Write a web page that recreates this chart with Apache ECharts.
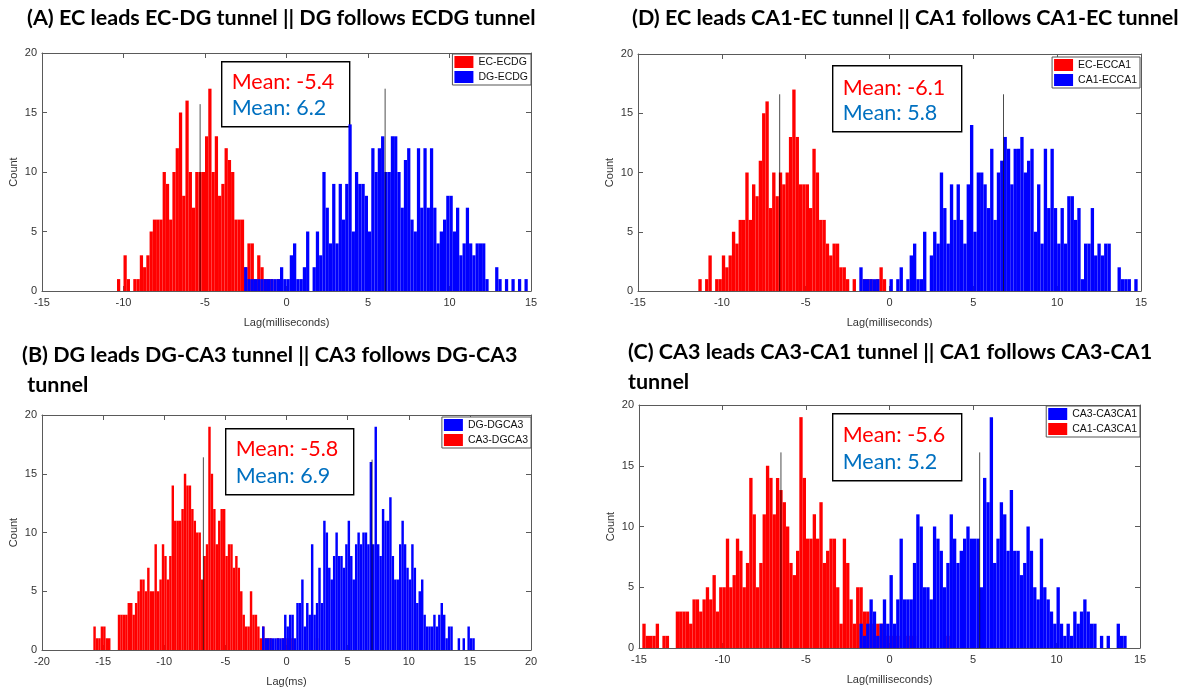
<!DOCTYPE html>
<html>
<head>
<meta charset="utf-8">
<title>Lag histograms</title>
<script src="https://cdn.jsdelivr.net/npm/echarts/dist/echarts.min.js"></script>
<style>
  html, body { margin: 0; padding: 0; background: #ffffff; }
  #chart { width: 1184px; height: 694px; }
</style>
</head>
<body>
<div id="chart"></div>
<script>
// Histogram bin width (ms); each counts array starts at the given left bin edge.
const BIN = 0.2;

// (A) EC-DG tunnel
const ecEcdgStart = -10.4;
const ecEcdgCounts = [1,0,3,1,0,1,1,3,2,3,5,6,6,6,10,9,6,10,12,15,8,16,10,7,10,10,10,13,17,10,13,8,9,12,11,10,6,6,6,2,4,4,1,3,2,1,1,1,0,1];
const dgEcdgStart = -2.8;
const dgEcdgCounts = [0,2,1,1,1,1,1,1,1,1,1,1,2,1,1,3,4,1,1,2,5,0,2,5,3,10,7,4,9,4,9,6,9,14,5,10,9,9,8,5,12,10,12,13,10,10,13,13,10,7,11,12,6,5,12,7,12,7,12,7,4,5,6,8,8,5,7,3,4,7,4,3,4,4,4,1,0,0,2,1,0,1,0,1,0,1,0,1];

// (D) CA1-EC tunnel
const ecEcca1Start = -11.4;
const ecEcca1Counts = [1,0,1,3,0,1,1,3,2,3,5,4,6,6,10,6,9,8,11,15,16,7,10,8,10,9,10,13,17,13,9,9,9,7,12,10,6,6,4,3,4,4,2,2,1,0,1,0,0,1,1,1,0,1,2,1];
const ca1Ecca1Start = -1.8;
const ca1Ecca1Counts = [2,1,1,1,1,1,0,0,0,1,0,1,2,0,1,3,4,1,1,5,0,3,5,4,10,7,4,9,6,9,6,4,9,14,5,10,10,9,7,12,6,10,11,13,12,9,12,12,13,10,11,12,5,9,4,12,7,12,7,4,7,4,8,8,6,7,1,4,4,7,3,4,3,4,4,0,0,2,1,1,1,0,1];

// (B) DG-CA3 tunnel
const dgDgca3Start = -2.0;
const dgDgca3Counts = [2,1,1,1,1,1,1,1,1,3,2,3,3,1,4,4,6,2,4,3,9,3,4,7,4,11,10,7,6,8,10,8,8,7,9,11,8,6,9,10,9,10,10,9,16,9,19,9,8,12,11,11,13,8,6,6,9,11,9,7,6,9,7,4,5,6,3,2,2,2,3,2,3,4,3,1,2,2,0,0,1,0,1,0,2,1,1];
const ca3Dgca3Start = -15.8;
const ca3Dgca3Counts = [2,1,1,2,2,1,1,0,0,0,3,3,3,3,4,4,3,4,5,6,6,5,7,5,5,9,5,6,9,8,6,8,14,11,11,11,12,15,14,14,12,11,10,10,6,8,9,19,15,12,9,11,12,12,8,9,9,7,8,7,5,3,2,2,5,3,3,2,1,2,1,1,1,0,0,1,0,1,1,1,1,1,0,0,0,0,0,0,0,0,0,1];

// (C) CA3-CA1 tunnel
const ca3Ca3ca1Start = -1.8;
const ca3Ca3ca1Counts = [2,1,2,4,3,1,2,4,2,6,2,4,9,4,4,4,7,11,10,5,5,4,10,9,8,5,7,11,9,7,8,9,10,9,9,9,5,14,12,19,7,9,12,11,8,13,8,8,6,7,10,8,5,4,9,5,4,3,2,5,2,1,2,1,3,2,3,4,3,2,2,0,1,0,1,0,0,2,1,1];
const ca1Ca3ca1Start = -14.8;
const ca1Ca3ca1Counts = [2,1,1,1,2,0,1,1,0,0,3,3,3,3,2,4,4,3,4,5,4,6,3,5,5,9,5,6,9,8,5,7,14,11,5,7,11,15,14,11,14,13,12,10,7,6,8,19,14,9,9,11,9,12,7,8,9,9,5,2,9,7,4,2,5,5,3,3,2,1,2,2,2,1,1,1,1,0,0,1,1,1,0,0,0,0,0,0,0,0,0,1];

// Vertical reference lines per panel: [lag, height]
const refLinesA = [[-5.3, 15.7], [6.05, 17.0]];
const refLinesD = [[-6.55, 16.6], [6.8, 16.6]];
const refLinesB = [[-6.8, 16.4], [7.0, 16.2]];
const refLinesC = [[-6.5, 16.1], [5.4, 16.1]];

// Mean annotations
const meansA = ['Mean: -5.4', 'Mean: 6.2'];
const meansD = ['Mean: -6.1', 'Mean: 5.8'];
const meansB = ['Mean: -5.8', 'Mean: 6.9'];
const meansC = ['Mean: -5.6', 'Mean: 5.2'];

// Axis ticks
const ticks15 = [-15, -10, -5, 0, 5, 10, 15];
const ticks20 = [-20, -15, -10, -5, 0, 5, 10, 15, 20];
const countTicks = [0, 5, 10, 15, 20];

const titles = [
  '(A) EC leads EC-DG tunnel || DG follows ECDG tunnel',
  '(D) EC leads CA1-EC tunnel || CA1 follows CA1-EC tunnel',
  '(B) DG leads DG-CA3 tunnel || CA3 follows DG-CA3\n tunnel',
  '(C) CA3 leads CA3-CA1 tunnel || CA1 follows CA3-CA1\ntunnel'
];

const RED = '#ff0000';
const BLUE = '#0000ff';
const MEAN_RED = '#ff0000';
const MEAN_BLUE = '#0070c0';
const AXIS = '#5a5a5a';
const TICK_TEXT = '#333333';
const TICK_FONT = '"Liberation Sans", Arial, sans-serif';
const TITLE_FONT = 'Lato, "Open Sans", sans-serif';

function binned(start, counts) {
  return counts.map((c, i) => [Math.round((start + i * BIN) * 100) / 100, c]);
}

function histRenderer(params, api) {
  const left = api.value(0);
  const count = api.value(1);
  if (!(count > 0)) return null;
  const base = api.coord([left, 0]);
  const top = api.coord([left + BIN, count]);
  return {
    type: 'rect',
    shape: { x: base[0], y: top[1], width: top[0] - base[0], height: base[1] - top[1] },
    style: { fill: api.visual('color') }
  };
}

const panels = [
  {
    grid: { left: 42, top: 53, width: 489, height: 238 },
    xTicks: ticks15, xName: 'Lag(milliseconds)',
    hists: [
      { name: 'EC-ECDG', data: binned(ecEcdgStart, ecEcdgCounts), color: RED },
      { name: 'DG-ECDG', data: binned(dgEcdgStart, dgEcdgCounts), color: BLUE }
    ],
    legendOrder: ['EC-ECDG', 'DG-ECDG'],
    legendPos: { right: 1184 - 531, top: 54 },
    refLines: refLinesA,
    means: meansA,
    box: { left: 221, top: 61, width: 128, height: 65, y1: 20, y2: 46 }
  },
  {
    grid: { left: 638, top: 54, width: 503, height: 237 },
    xTicks: ticks15, xName: 'Lag(milliseconds)',
    hists: [
      { name: 'EC-ECCA1', data: binned(ecEcca1Start, ecEcca1Counts), color: RED },
      { name: 'CA1-ECCA1', data: binned(ca1Ecca1Start, ca1Ecca1Counts), color: BLUE }
    ],
    legendOrder: ['EC-ECCA1', 'CA1-ECCA1'],
    legendPos: { right: 1184 - 1140, top: 57 },
    refLines: refLinesD,
    means: meansD,
    box: { left: 832, top: 65, width: 129, height: 66, y1: 22, y2: 47 }
  },
  {
    grid: { left: 42, top: 415, width: 489, height: 235 },
    xTicks: ticks20, xName: 'Lag(ms)',
    hists: [
      { name: 'CA3-DGCA3', data: binned(ca3Dgca3Start, ca3Dgca3Counts), color: RED },
      { name: 'DG-DGCA3', data: binned(dgDgca3Start, dgDgca3Counts), color: BLUE }
    ],
    legendOrder: ['DG-DGCA3', 'CA3-DGCA3'],
    legendPos: { right: 1184 - 531, top: 417 },
    refLines: refLinesB,
    means: meansB,
    box: { left: 225, top: 428, width: 128, height: 66, y1: 20, y2: 47 }
  },
  {
    grid: { left: 639, top: 405, width: 501, height: 243 },
    xTicks: ticks15, xName: 'Lag(milliseconds)',
    hists: [
      { name: 'CA1-CA3CA1', data: binned(ca1Ca3ca1Start, ca1Ca3ca1Counts), color: RED },
      { name: 'CA3-CA3CA1', data: binned(ca3Ca3ca1Start, ca3Ca3ca1Counts), color: BLUE }
    ],
    legendOrder: ['CA3-CA3CA1', 'CA1-CA3CA1'],
    legendPos: { right: 1184 - 1140, top: 406 },
    refLines: refLinesC,
    means: meansC,
    box: { left: 832, top: 413, width: 129, height: 67, y1: 21, y2: 48 }
  }
];

const titlePos = [
  { left: 27, top: 3 },
  { left: 632, top: 3 },
  { left: 22, top: 340 },
  { left: 628, top: 337 }
];

const grid = [], xAxis = [], yAxis = [], series = [], legend = [], graphic = [], title = [];

panels.forEach((p, g) => {
  grid.push(Object.assign({ containLabel: false, outerBoundsMode: 'none' }, p.grid));
  const xMin = p.xTicks[0], xMax = p.xTicks[p.xTicks.length - 1];
  const yMin = countTicks[0], yMax = countTicks[countTicks.length - 1];
  const lineStyle = { color: AXIS, width: 1 };
  const tickStyle = { inside: true, length: 5, lineStyle: { color: AXIS, width: 1 } };

  // bottom axis (labelled) and top mirror
  xAxis.push({
    gridIndex: g, type: 'value', position: 'bottom', min: xMin, max: xMax, interval: 5,
    axisLine: { show: true, onZero: false, lineStyle },
    axisTick: tickStyle,
    axisLabel: { color: TICK_TEXT, fontSize: 11, fontFamily: TICK_FONT, margin: 6, showMinLabel: true, showMaxLabel: true },
    splitLine: { show: false },
    name: p.xName, nameLocation: 'middle', nameGap: 26,
    nameTextStyle: { color: TICK_TEXT, fontSize: 11, fontFamily: TICK_FONT }
  });
  xAxis.push({
    gridIndex: g, type: 'value', position: 'top', min: xMin, max: xMax, interval: 5,
    axisLine: { show: true, onZero: false, lineStyle },
    axisTick: tickStyle, axisLabel: { show: false }, splitLine: { show: false }
  });
  // left axis (labelled) and right mirror
  yAxis.push({
    gridIndex: g, type: 'value', position: 'left', min: yMin, max: yMax, interval: 5,
    axisLine: { show: true, onZero: false, lineStyle },
    axisTick: tickStyle,
    axisLabel: { color: TICK_TEXT, fontSize: 11, fontFamily: TICK_FONT, margin: 5, showMinLabel: true, showMaxLabel: true },
    splitLine: { show: false },
    name: 'Count', nameLocation: 'middle', nameGap: 23, nameRotate: 90,
    nameTextStyle: { color: TICK_TEXT, fontSize: 11, fontFamily: TICK_FONT }
  });
  yAxis.push({
    gridIndex: g, type: 'value', position: 'right', min: yMin, max: yMax, interval: 5,
    axisLine: { show: true, onZero: false, lineStyle },
    axisTick: tickStyle, axisLabel: { show: false }, splitLine: { show: false }
  });

  const xi = g * 2, yi = g * 2;
  p.hists.forEach(h => {
    series.push({
      type: 'custom', name: h.name, xAxisIndex: xi, yAxisIndex: yi,
      renderItem: histRenderer, data: h.data, encode: { x: 0, y: 1 },
      itemStyle: { color: h.color }, clip: true, silent: true, z: 2
    });
  });
  p.refLines.forEach(r => {
    series.push({
      type: 'line', xAxisIndex: xi, yAxisIndex: yi,
      data: [[r[0], 0], [r[0], r[1]]],
      symbol: 'none', silent: true, z: 4,
      lineStyle: { color: '#000000', width: 1, opacity: 0.7 }
    });
  });

  legend.push({
    data: p.legendOrder.map(n => ({ name: n, icon: 'rect' })),
    orient: 'vertical', right: p.legendPos.right, top: p.legendPos.top,
    itemWidth: 19, itemHeight: 12, itemGap: 3, padding: [2, 3, 2, 2],
    backgroundColor: '#ffffff', borderColor: '#555555', borderWidth: 1, borderRadius: 0,
    selectedMode: false,
    textStyle: { fontSize: 10.5, fontFamily: TICK_FONT, color: '#111111' }
  });

  const b = p.box;
  graphic.push({
    type: 'group', left: b.left, top: b.top, z: 20,
    children: [
      { type: 'rect', shape: { x: 0, y: 0, width: b.width, height: b.height },
        style: { fill: '#ffffff', stroke: '#000000', lineWidth: 1.4 } },
      { type: 'text', x: 10, y: b.y1,
        style: { text: p.means[0], fill: MEAN_RED, fontSize: 21.5, fontFamily: TITLE_FONT, verticalAlign: 'middle' } },
      { type: 'text', x: 10, y: b.y2,
        style: { text: p.means[1], fill: MEAN_BLUE, fontSize: 21.5, fontFamily: TITLE_FONT, verticalAlign: 'middle' } }
    ]
  });

  title.push({
    text: titles[g], left: titlePos[g].left, top: titlePos[g].top, padding: 0,
    textStyle: { fontSize: 21.5, fontWeight: 'bold', fontFamily: TITLE_FONT, color: '#000000', lineHeight: 30 }
  });
});

const chart = echarts.init(document.getElementById('chart'), null, { renderer: 'canvas' });
chart.setOption({
  backgroundColor: '#ffffff',
  animation: false,
  title, grid, xAxis, yAxis, series, legend, graphic
});
</script>
</body>
</html>
